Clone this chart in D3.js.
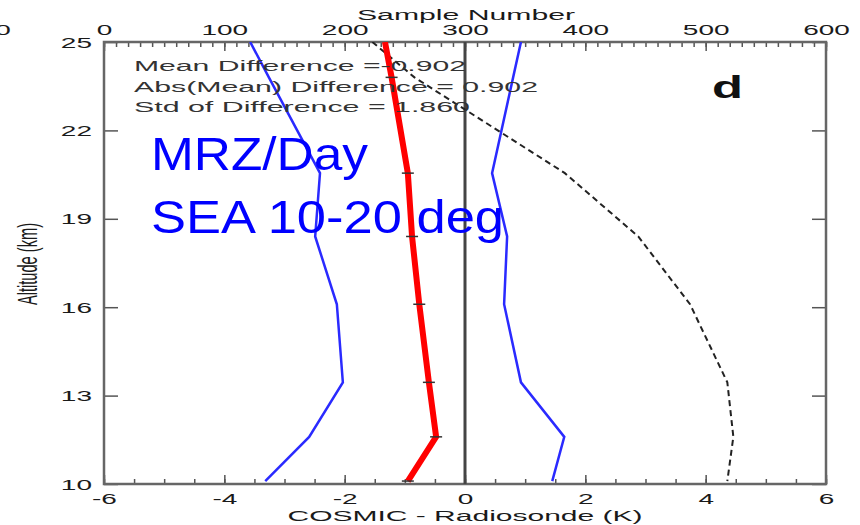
<!DOCTYPE html>
<html>
<head>
<meta charset="utf-8">
<script src="https://cdn.jsdelivr.net/npm/d3@7"></script>
<style>
  body { margin: 0; background: #fff; }
  svg text { font-family: "Liberation Sans", Arial, sans-serif; }
</style>
</head>
<body>
<div id="chart"></div>
<script>
// altitude levels (km) the profiles are given at
var levels = [25, 23.8, 20.55, 18.4, 16.1, 13.45, 11.6, 10.1];
// mean COSMIC - radiosonde difference (K)
var meanDiff = [-1.33, -1.22, -0.95, -0.88, -0.76, -0.60, -0.48, -0.95];
// mean - std and mean + std (K)
var lowerStd = [-3.57, -3.26, -2.41, -2.49, -2.13, -2.03, -2.59, -3.32];
var upperStd = [0.93, 0.80, 0.45, 0.70, 0.65, 0.93, 1.65, 1.45];
// number of samples at each level
var sampleCount = [223, 258, 383, 444, 487, 518, 523, 518];

var diffTicks = [-6, -4, -2, 0, 2, 4, 6];
var sampleTicks = [0, 100, 200, 300, 400, 500, 600];
var altTicks = [10, 13, 16, 19, 22, 25];

var statLines = ["Mean Difference =-0.902", "Abs(Mean) Difference = 0.902", "Std of Difference = 1.860"];

var width = 860, height = 525;
var plotLeft = 104, plotRight = 826, plotTop = 42, plotBottom = 484;

var svg = d3.select("#chart").append("svg").attr("width", width).attr("height", height);

var x = d3.scaleLinear().domain([-6, 6]).range([plotLeft, plotRight]);
var xs = d3.scaleLinear().domain([0, 600]).range([plotLeft, plotRight]);
var y = d3.scaleLinear().domain([10, 25]).range([plotBottom, plotTop]);

svg.append("clipPath").attr("id", "plot")
    .append("rect").attr("x", plotLeft).attr("y", plotTop)
    .attr("width", plotRight - plotLeft).attr("height", plotBottom - plotTop);

function styleAxis(g) {
    g.select(".domain").remove();
    g.selectAll("line").attr("stroke", "#555").attr("stroke-width", 1.5);
    g.selectAll("text").attr("font-size", 14).attr("fill", "#1a1a1a").attr("transform", "scale(2,1)");
}

// bottom axis, minor then major ticks
svg.append("g").attr("transform", "translate(0," + plotBottom + ")")
    .call(d3.axisBottom(x).tickValues(d3.range(-6, 6.01, 0.5)).tickSize(-5).tickFormat(""))
    .call(styleAxis);
svg.append("g").attr("transform", "translate(0," + plotBottom + ")")
    .call(d3.axisBottom(x).tickValues(diffTicks).tickSize(-9).tickPadding(10).tickFormat(function (d) { return String(d); }))
    .call(styleAxis);

// top axis (sample number)
svg.append("g").attr("transform", "translate(0," + plotTop + ")")
    .call(d3.axisTop(xs).tickValues(d3.range(0, 601, 10)).tickSize(-5).tickFormat(""))
    .call(styleAxis);
svg.append("g").attr("transform", "translate(0," + plotTop + ")")
    .call(d3.axisTop(xs).tickValues(sampleTicks).tickSize(-9).tickPadding(7))
    .call(styleAxis);

// left and right axes
svg.append("g").attr("transform", "translate(" + plotLeft + ",0)")
    .call(d3.axisLeft(y).tickValues(altTicks).tickSize(-14).tickPadding(6))
    .call(styleAxis)
    .selectAll("text").attr("dy", "0.36em");
svg.append("g").attr("transform", "translate(" + plotRight + ",0)")
    .call(d3.axisRight(y).tickValues(altTicks).tickSize(-14).tickFormat(""))
    .call(styleAxis);

// frame
svg.append("rect").attr("x", plotLeft).attr("y", plotTop)
    .attr("width", plotRight - plotLeft).attr("height", plotBottom - plotTop)
    .attr("fill", "none").attr("stroke", "#666").attr("stroke-width", 2.5);

// zero line
svg.append("line").attr("x1", x(0)).attr("x2", x(0)).attr("y1", plotTop).attr("y2", plotBottom)
    .attr("stroke", "#444").attr("stroke-width", 3);

var plot = svg.append("g").attr("clip-path", "url(#plot)");

function profile(values, scale) {
    return d3.line()
        .x(function (d) { return scale(d); })
        .y(function (d, i) { return y(levels[i]); })(values);
}

plot.append("path").attr("d", profile(sampleCount, xs))
    .attr("fill", "none").attr("stroke", "#222").attr("stroke-width", 2).attr("stroke-dasharray", "6,4");

plot.append("path").attr("d", profile(lowerStd, x))
    .attr("fill", "none").attr("stroke", "#2a2aff").attr("stroke-width", 2.5);
plot.append("path").attr("d", profile(upperStd, x))
    .attr("fill", "none").attr("stroke", "#2a2aff").attr("stroke-width", 2.5);

plot.append("path").attr("d", profile(meanDiff, x))
    .attr("fill", "none").attr("stroke", "#ff0000").attr("stroke-width", 6);

// small level marks on the mean profile
plot.selectAll(".mark").data(meanDiff.slice(1)).enter().append("line")
    .attr("x1", function (d) { return x(d) - 6; })
    .attr("x2", function (d) { return x(d) + 6; })
    .attr("y1", function (d, i) { return y(levels[i + 1]); })
    .attr("y2", function (d, i) { return y(levels[i + 1]); })
    .attr("stroke", "#333").attr("stroke-width", 1.5);

// statistics text
var statLengths = [332, 404, 336];
svg.selectAll(".stat").data(statLines).enter().append("text")
    .attr("x", 134)
    .attr("y", function (d, i) { return 71 + i * 20.5; })
    .attr("font-size", 14).attr("fill", "#333")
    .attr("textLength", function (d, i) { return statLengths[i]; })
    .attr("lengthAdjust", "spacingAndGlyphs")
    .text(function (d) { return d; });

svg.append("text").attr("x", 712).attr("y", 98).attr("font-size", 31).attr("font-weight", "bold")
    .attr("textLength", 31).attr("lengthAdjust", "spacingAndGlyphs").attr("fill", "#111").text("d");

svg.append("text").attr("x", 151).attr("y", 170).attr("font-size", 46).attr("fill", "#0000ff")
    .attr("textLength", 217).attr("lengthAdjust", "spacingAndGlyphs").text("MRZ/Day");
svg.append("text").attr("x", 151).attr("y", 233).attr("font-size", 46).attr("fill", "#0000ff")
    .attr("textLength", 353).attr("lengthAdjust", "spacingAndGlyphs").text("SEA 10-20 deg");

// axis titles
svg.append("text").attr("x", 465).attr("y", 521).attr("text-anchor", "middle").attr("font-size", 14)
    .attr("fill", "#1a1a1a").attr("textLength", 355).attr("lengthAdjust", "spacingAndGlyphs")
    .text("COSMIC - Radiosonde (K)");
svg.append("text").attr("x", 466).attr("y", 20).attr("text-anchor", "middle").attr("font-size", 14)
    .attr("fill", "#1a1a1a").attr("textLength", 218).attr("lengthAdjust", "spacingAndGlyphs")
    .text("Sample Number");
svg.append("text").attr("transform", "translate(37,264) scale(1.9,1) rotate(-90)")
    .attr("text-anchor", "middle").attr("font-size", 15).attr("fill", "#1a1a1a")
    .attr("textLength", 82).attr("lengthAdjust", "spacingAndGlyphs")
    .text("Altitude (km)");

// edge of the neighbouring panel's top label
svg.append("text").attr("transform", "translate(3,35) scale(2,1)").attr("text-anchor", "middle")
    .attr("font-size", 14).attr("fill", "#1a1a1a").text("0");
</script>
</body>
</html>
